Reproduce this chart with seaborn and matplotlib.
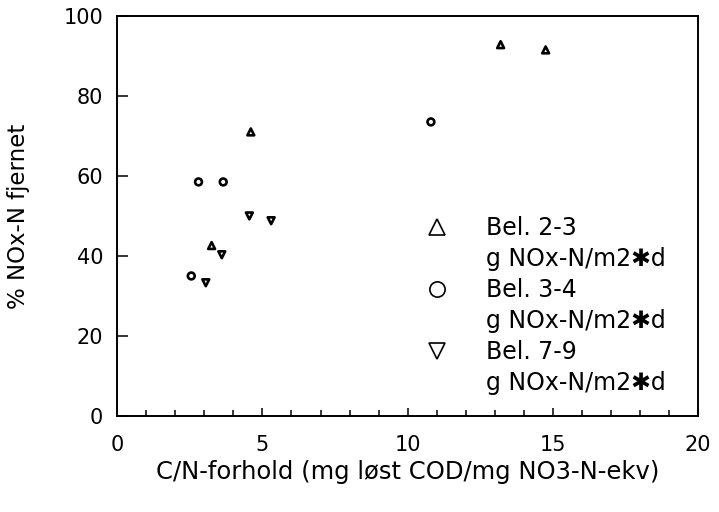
import matplotlib
matplotlib.use("Agg")
import matplotlib.pyplot as plt
from matplotlib.lines import Line2D
from matplotlib.ticker import MultipleLocator
import seaborn as sns
import pandas as pd

# Loading series (legend labels) and the unit line shown under each
series_labels = ["Bel. 2-3", "Bel. 3-4", "Bel. 7-9"]
unit_label = "g NOx-N/m2\u2731d"

# C/N ratio (x) and % NOx-N removed (y) for each loading series
cn_bel_2_3 = [13.2, 14.75, 4.6, 3.25]
nox_bel_2_3 = [92.8, 91.5, 71.0, 42.6]
cn_bel_3_4 = [10.8, 2.8, 3.65, 2.55]
nox_bel_3_4 = [73.5, 58.5, 58.5, 35.0]
cn_bel_7_9 = [4.55, 5.3, 3.6, 3.05]
nox_bel_7_9 = [50.0, 48.8, 40.3, 33.3]

x_ticks = [0, 5, 10, 15, 20]
y_ticks = [0, 20, 40, 60, 80, 100]

df = pd.concat([
    pd.DataFrame({"cn": cn_bel_2_3, "nox": nox_bel_2_3, "serie": series_labels[0]}),
    pd.DataFrame({"cn": cn_bel_3_4, "nox": nox_bel_3_4, "serie": series_labels[1]}),
    pd.DataFrame({"cn": cn_bel_7_9, "nox": nox_bel_7_9, "serie": series_labels[2]}),
], ignore_index=True)

marker_map = {series_labels[0]: "^", series_labels[1]: "o", series_labels[2]: "v"}

sns.set_theme(style="white", rc={"text.color": "black", "axes.labelcolor": "black",
                                 "xtick.color": "black", "ytick.color": "black"})
plt.rcParams["font.family"] = ["DejaVu Sans"]

fig, ax = plt.subplots(figsize=(7.19, 5.12), dpi=100)
fig.subplots_adjust(left=0.163, right=0.971, top=0.969, bottom=0.1875)

sns.scatterplot(data=df, x="cn", y="nox", style="serie", markers=marker_map,
                facecolor="white", edgecolor="black", linewidth=1.9, s=24,
                legend=False, ax=ax, zorder=3)

ax.set_xlim(0, 20)
ax.set_ylim(0, 100)
ax.set_xticks(x_ticks)
ax.set_yticks(y_ticks)
ax.xaxis.set_minor_locator(MultipleLocator(1))
ax.tick_params(axis="both", which="both", direction="in", colors="black",
               labelsize=15, bottom=True, left=True, top=False, right=False)
ax.tick_params(axis="x", which="major", length=6, width=1.1, pad=14)
ax.tick_params(axis="x", which="minor", length=4, width=1.1)
ax.tick_params(axis="y", which="major", length=8, width=1.1, pad=10)
for sp in ax.spines.values():
    sp.set_color("black")
    sp.set_linewidth(1.4)

ax.set_xlabel("C/N-forhold (mg løst COD/mg NO3-N-ekv)", fontsize=17.5, va="center")
ax.set_ylabel("% NOx-N fjernet", fontsize=16.5, va="center")
ax.xaxis.set_label_coords(0.5, -0.14)
ax.yaxis.set_label_coords(-0.170, 0.5)

# Legend: each series marker followed by its unit line
handles, labels = [], []
for lab in series_labels:
    handles.append(Line2D([], [], marker=marker_map[lab], ls="none",
                          mfc="none", mec="black", markersize=11, mew=1.2))
    labels.append(lab)
    handles.append(Line2D([], [], ls="none", marker=None))
    labels.append(unit_label)

leg = ax.legend(handles, labels, loc="upper left", bbox_to_anchor=(0.533, 0.50),
                frameon=False, fontsize=17, borderpad=0, borderaxespad=0,
                handlelength=0.85, handletextpad=1.65, labelspacing=0.3)
for t in leg.get_texts():
    t.set_color("black")

fig.savefig("out.png", dpi=100)
